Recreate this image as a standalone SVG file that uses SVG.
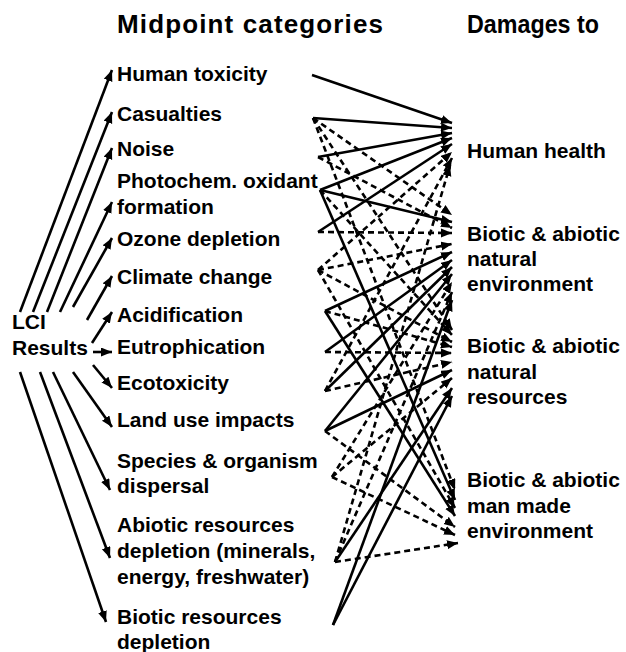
<svg xmlns="http://www.w3.org/2000/svg" width="626" height="652" viewBox="0 0 626 652">
<style>
text{font-family:"Liberation Sans",Arial,sans-serif;font-weight:bold;fill:#000}
.t{font-size:26px}
.l{font-size:21px}
.s{stroke:#000;stroke-width:2.6;fill:none;marker-end:url(#a)}
.d{stroke:#000;stroke-width:2.6;fill:none;stroke-dasharray:6 4;marker-end:url(#a)}
</style>
<defs>
<marker id="a" markerUnits="userSpaceOnUse" markerWidth="12" markerHeight="10" refX="11" refY="4.5" orient="auto">
<path d="M0,0 L11,4.5 L0,9 z" fill="#000"/>
</marker>
</defs>
<rect width="626" height="652" fill="#fff"/>
<g id="titles">
<text class="t" x="117" y="33" textLength="266" lengthAdjust="spacing">Midpoint categories</text>
<text class="t" x="467" y="33" textLength="132" lengthAdjust="spacingAndGlyphs">Damages to</text>
</g>
<g id="lci"><text class="l" x="12" y="329">LCI</text><text class="l" x="12" y="355">Results</text></g>
<g id="m1"><text class="l" x="117" y="81">Human toxicity</text></g>
<g id="m2"><text class="l" x="117" y="121">Casualties</text></g>
<g id="m3"><text class="l" x="117" y="156">Noise</text></g>
<g id="m4"><text class="l" x="117" y="188">Photochem. oxidant</text><text class="l" x="117" y="214">formation</text></g>
<g id="m5"><text class="l" x="117" y="246">Ozone depletion</text></g>
<g id="m6"><text class="l" x="117" y="284">Climate change</text></g>
<g id="m7"><text class="l" x="117" y="322">Acidification</text></g>
<g id="m8"><text class="l" x="117" y="354">Eutrophication</text></g>
<g id="m9"><text class="l" x="117" y="390">Ecotoxicity</text></g>
<g id="m10"><text class="l" x="117" y="427">Land use impacts</text></g>
<g id="m11"><text class="l" x="117" y="468">Species &amp; organism</text><text class="l" x="117" y="493">dispersal</text></g>
<g id="m12"><text class="l" x="117" y="532">Abiotic resources</text><text class="l" x="117" y="558">depletion (minerals,</text><text class="l" x="117" y="584">energy, freshwater)</text></g>
<g id="m13"><text class="l" x="117" y="624">Biotic resources</text><text class="l" x="117" y="649">depletion</text></g>
<g id="d1"><text class="l" x="467" y="158">Human health</text></g>
<g id="d2"><text class="l" x="467" y="241">Biotic &amp; abiotic</text><text class="l" x="467" y="266">natural</text><text class="l" x="467" y="291">environment</text></g>
<g id="d3"><text class="l" x="467" y="353">Biotic &amp; abiotic</text><text class="l" x="467" y="379">natural</text><text class="l" x="467" y="404">resources</text></g>
<g id="d4"><text class="l" x="467" y="487">Biotic &amp; abiotic</text><text class="l" x="467" y="513">man made</text><text class="l" x="467" y="538">environment</text></g>
<g id="connectors">
<line class="s" x1="20" y1="312" x2="112" y2="70"/>
<line class="s" x1="33" y1="312" x2="112" y2="112"/>
<line class="s" x1="47" y1="312" x2="112" y2="148"/>
<line class="s" x1="60" y1="312" x2="112" y2="202"/>
<line class="s" x1="73" y1="307" x2="112" y2="238"/>
<line class="s" x1="87" y1="320" x2="112" y2="276"/>
<line class="s" x1="92" y1="343" x2="112" y2="312"/>
<line class="s" x1="93" y1="352" x2="112" y2="352"/>
<line class="s" x1="93" y1="365" x2="112" y2="388"/>
<line class="s" x1="73" y1="372" x2="112" y2="427"/>
<line class="s" x1="53" y1="372" x2="110" y2="490"/>
<line class="s" x1="40" y1="372" x2="110" y2="558"/>
<line class="s" x1="20" y1="372" x2="106" y2="622"/>
<line class="s" x1="312" y1="75" x2="452" y2="123"/>
<line class="s" x1="313" y1="118" x2="452" y2="128"/>
<line class="s" x1="318" y1="157" x2="452" y2="133"/>
<line class="s" x1="320" y1="190" x2="452" y2="138"/>
<line class="s" x1="318" y1="232" x2="452" y2="144"/>
<line class="d" x1="318" y1="270" x2="452" y2="152"/>
<line class="d" x1="325" y1="391" x2="452" y2="158"/>
<line class="d" x1="335" y1="562" x2="450" y2="165"/>
<line class="d" x1="313" y1="118" x2="452" y2="215"/>
<line class="s" x1="320" y1="190" x2="452" y2="222"/>
<line class="d" x1="318" y1="157" x2="452" y2="228"/>
<line class="d" x1="318" y1="232" x2="452" y2="233"/>
<line class="d" x1="318" y1="270" x2="452" y2="244"/>
<line class="s" x1="325" y1="311" x2="452" y2="252"/>
<line class="s" x1="325" y1="352" x2="452" y2="260"/>
<line class="s" x1="325" y1="391" x2="452" y2="267"/>
<line class="s" x1="325" y1="431" x2="452" y2="274"/>
<line class="d" x1="332" y1="477" x2="452" y2="282"/>
<line class="d" x1="335" y1="562" x2="452" y2="292"/>
<line class="s" x1="333" y1="625" x2="452" y2="300"/>
<line class="d" x1="313" y1="118" x2="452" y2="330"/>
<line class="d" x1="320" y1="190" x2="452" y2="335"/>
<line class="d" x1="318" y1="270" x2="452" y2="342"/>
<line class="d" x1="325" y1="311" x2="452" y2="347"/>
<line class="d" x1="325" y1="352" x2="452" y2="353"/>
<line class="d" x1="325" y1="391" x2="452" y2="362"/>
<line class="s" x1="325" y1="431" x2="452" y2="370"/>
<line class="d" x1="332" y1="477" x2="452" y2="378"/>
<line class="s" x1="335" y1="562" x2="452" y2="388"/>
<line class="s" x1="333" y1="625" x2="452" y2="396"/>
<line class="d" x1="313" y1="118" x2="455" y2="490"/>
<line class="s" x1="320" y1="190" x2="455" y2="500"/>
<line class="d" x1="318" y1="270" x2="455" y2="508"/>
<line class="s" x1="325" y1="311" x2="455" y2="516"/>
<line class="d" x1="325" y1="431" x2="455" y2="527"/>
<line class="d" x1="332" y1="477" x2="455" y2="535"/>
<line class="d" x1="335" y1="562" x2="458" y2="543"/>
</g>
</svg>
